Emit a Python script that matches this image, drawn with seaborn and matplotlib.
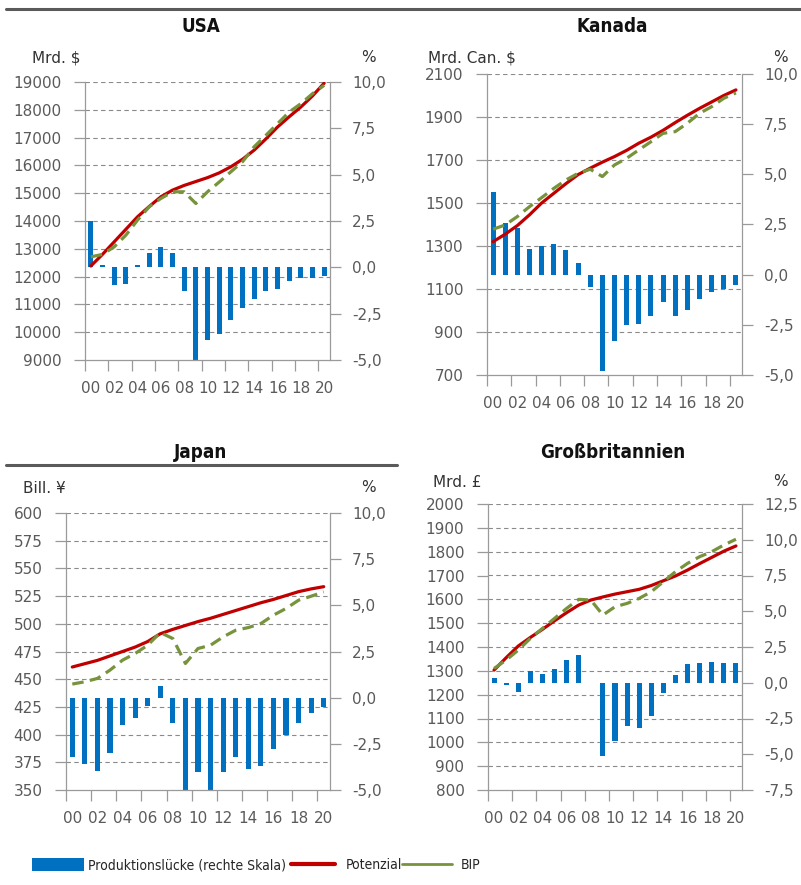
import matplotlib
matplotlib.use("Agg")
import matplotlib.pyplot as plt
import matplotlib.transforms as mtransforms
from matplotlib.lines import Line2D
from matplotlib.patches import Patch
from matplotlib.ticker import FuncFormatter
from matplotlib import font_manager
import numpy as np
import pandas as pd
import seaborn as sns

years = ["00", "01", "02", "03", "04", "05", "06", "07", "08", "09", "10",
         "11", "12", "13", "14", "15", "16", "17", "18", "19", "20"]

usa_gap = [2.5, 0.1, -0.95, -0.9, 0.15, 0.75, 1.1, 0.75, -1.3, -5.0, -3.9,
           -3.6, -2.85, -2.2, -1.7, -1.3, -1.15, -0.75, -0.6, -0.55, -0.45]
usa_pot = [12380, 12800, 13250, 13700, 14150, 14520, 14870, 15110, 15280, 15420, 15560,
           15730, 15950, 16220, 16550, 16950, 17380, 17750, 18100, 18500, 18960]
usa_bip = [12710, 12800, 13070, 13490, 14030, 14510, 14810, 15050, 15050, 14630, 15050,
           15400, 15770, 16130, 16670, 17080, 17500, 17920, 18220, 18580, 18880]

can_gap = [4.12, 2.57, 2.33, 1.3, 1.41, 1.55, 1.25, 0.58, -0.61, -4.8, -3.3,
           -2.52, -2.44, -2.08, -1.36, -2.08, -1.78, -1.23, -0.86, -0.71, -0.53]
can_pot = [1320, 1355, 1395, 1445, 1500, 1545, 1590, 1632, 1662, 1690, 1716,
           1745, 1778, 1806, 1838, 1874, 1908, 1940, 1970, 2000, 2026]
can_bip = [1378, 1398, 1437, 1483, 1525, 1568, 1607, 1638, 1657, 1623, 1677,
           1708, 1747, 1785, 1824, 1832, 1871, 1917, 1948, 1987, 2012]

jap_gap = [-3.19, -3.59, -3.95, -2.97, -1.48, -1.12, -0.43, 0.63, -1.39, -5.0, -4.04,
           -5.0, -4.04, -3.19, -3.88, -3.68, -2.78, -2.02, -1.39, -0.85, -0.49]
jap_pot = [461, 464, 467, 471, 475, 479, 484, 491, 495, 498.5, 502,
           505, 508.5, 512, 515.5, 519, 522, 525.5, 529, 531.5, 533.5]
jap_bip = [445.6, 447.7, 450.7, 458.2, 467.2, 473.2, 480.7, 492.1, 486.7, 464.2, 477.7,
           480.7, 488.2, 494.2, 496.6, 500.2, 507.8, 513.8, 521.3, 524.9, 528.8]

gbr_gap = [0.3, -0.15, -0.63, 0.84, 0.6, 0.93, 1.58, 1.91, -0.05, -5.13, -4.06,
           -3.03, -3.15, -2.33, -0.75, 0.54, 1.28, 1.4, 1.47, 1.4, 1.4]
gbr_pot = [1303, 1355, 1404, 1440, 1474, 1510, 1544, 1576, 1597, 1610, 1622,
           1632, 1642, 1658, 1678, 1698, 1723, 1750, 1776, 1802, 1824]
gbr_bip = [1310, 1345, 1387, 1436, 1478, 1520, 1562, 1600, 1597, 1534, 1569,
           1583, 1604, 1632, 1674, 1716, 1751, 1779, 1800, 1828, 1852]

legend_labels = ["Produktionslücke (rechte Skala)", "Potenzial", "BIP"]

BLUE = "#0070c0"
RED = "#c00000"
GREEN = "#77933c"
GREY = "#9a9a9a"

sns.set_style("white")
plt.rcParams["font.family"] = ["DejaVu Sans"]

# narrow face for titles / legend if one exists
names = {f.name for f in font_manager.fontManager.ttflist}
cond = [f for f in font_manager.fontManager.ttflist
        if f.name == "DejaVu Sans" and "ondensed" in str(f.stretch) + f.fname]
if "Liberation Sans Narrow" in names:
    NARROW = dict(family=["Liberation Sans Narrow", "DejaVu Sans"])
elif cond:
    NARROW = dict(family=["DejaVu Sans"], stretch="condensed")
else:
    NARROW = dict(family=["Roboto", "DejaVu Sans"])

W, H = 801, 885
fig = plt.figure(figsize=(W / 100, H / 100), dpi=100)


def rect(x0, y0, x1, y1):
    return [x0 / W, 1 - y1 / H, (x1 - x0) / W, (y1 - y0) / H]


def draw_panel(box, gap, pot, bip, lticks, rticks):
    df = pd.DataFrame({"year": years, "pos": range(len(years)),
                       "gap": gap, "pot": pot, "bip": bip})
    ax = fig.add_axes(rect(*box))
    ax2 = ax.twinx()

    sns.barplot(data=df, x="year", y="gap", order=years, ax=ax2, color=BLUE,
                saturation=1, width=0.42, errorbar=None, linewidth=0)
    sns.lineplot(data=df, x="pos", y="pot", ax=ax, color=RED, linewidth=2.3)
    sns.lineplot(data=df, x="pos", y="bip", ax=ax, color=GREEN, linewidth=2.3,
                 linestyle=(0, (3.6, 2.0)))

    ax.set_zorder(ax2.get_zorder() + 1)
    ax.patch.set_visible(False)

    ax.set_ylim(lticks[0], lticks[-1])
    ax.set_yticks(lticks)
    ax2.set_ylim(rticks[0], rticks[-1])
    ax2.set_yticks(rticks)
    ax2.yaxis.set_major_formatter(FuncFormatter(lambda v, _: f"{v:.1f}".replace(".", ",")))

    # dashed grid at left-axis values, drawn behind the bars
    tr = mtransforms.blended_transform_factory(ax2.transAxes, ax.transData)
    for v in lticks[1:]:
        ax2.add_artist(Line2D([0, 1], [v, v], transform=tr, color="#8a8a8a",
                              lw=0.8, linestyle=(0, (4, 3)), zorder=0))

    n = len(years)
    ax.set_xlim(-0.5, n - 0.5)
    ax.set_xticks(range(0, n, 2))
    ax.set_xticklabels(years[::2])
    ax.set_xticks(np.arange(-0.5, n - 1, 2), minor=True)
    ax.set_xlabel("")
    ax.set_ylabel("")
    ax2.set_xlabel("")
    ax2.set_ylabel("")

    for s in ["top", "right"]:
        ax.spines[s].set_visible(False)
    for s in ["top", "left", "bottom"]:
        ax2.spines[s].set_visible(False)
    for a in (ax, ax2):
        for s in a.spines.values():
            s.set_color(GREY)
            s.set_linewidth(0.9)

    ax.tick_params(axis="y", direction="out", length=8, width=0.9, color=GREY,
                   labelcolor="#5a5a5a", labelsize=11, pad=9, left=True)
    ax2.tick_params(axis="y", direction="out", length=8, width=0.9, color=GREY,
                    labelcolor="#5a5a5a", labelsize=11, pad=8, right=True)
    ax.tick_params(axis="x", which="major", length=0, labelcolor="#5a5a5a",
                   labelsize=11, pad=15)
    ax.tick_params(axis="x", which="minor", direction="out", length=8, width=0.9,
                   color=GREY, bottom=True)
    return ax, ax2


draw_panel((85, 82, 330, 360), usa_gap, usa_pot, usa_bip,
           list(range(9000, 19001, 1000)), [-5, -2.5, 0, 2.5, 5, 7.5, 10])
draw_panel((487, 74, 742, 375), can_gap, can_pot, can_bip,
           list(range(700, 2101, 200)), [-5, -2.5, 0, 2.5, 5, 7.5, 10])
draw_panel((66, 513, 330, 790), jap_gap, jap_pot, jap_bip,
           list(range(350, 601, 25)), [-5, -2.5, 0, 2.5, 5, 7.5, 10])
draw_panel((488, 504, 742, 790), gbr_gap, gbr_pot, gbr_bip,
           list(range(800, 2001, 100)), [-7.5, -5, -2.5, 0, 2.5, 5, 7.5, 10, 12.5])


def ftext(x, y, s, **kw):
    fig.text(x / W, 1 - y / H, s, **kw)


# panel titles
for x, y, s in [(201, 26, "USA"), (612, 26, "Kanada"),
                (201, 452, "Japan"), (613, 452, "Großbritannien")]:
    ftext(x, y, s, ha="center", va="center", fontsize=13.5, fontweight="semibold",
          color="#111111", **NARROW)

# unit labels
for x, y, s, ha in [(32, 58, "Mrd. $", "left"), (368, 57, "%", "center"),
                    (428, 58, "Mrd. Can. $", "left"), (780, 57, "%", "center"),
                    (23, 489, "Bill. ¥", "left"), (368, 488, "%", "center"),
                    (433, 483, "Mrd. £", "left"), (780, 482, "%", "center")]:
    ftext(x, y, s, ha=ha, va="center", fontsize=11, color="#333333")

# separator rules
fig.add_artist(Line2D([6 / W, 1], [1 - 9 / H] * 2, transform=fig.transFigure,
                      color="#5a5a5a", lw=2.2))
fig.add_artist(Line2D([6 / W, 397 / W], [1 - 465 / H] * 2, transform=fig.transFigure,
                      color="#5a5a5a", lw=2.2))

# legend, one entry per block so each sits where the reference has it
handles = [Patch(facecolor=BLUE, edgecolor="none"),
           Line2D([], [], color=RED, lw=3),
           Line2D([], [], color=GREEN, lw=2)]
prop = font_manager.FontProperties(size=10, **NARROW)
for h, lab, x0, hl, pad in zip(handles, legend_labels, [32, 291, 402],
                               [3.75, 3.2, 3.6], [0.3, 0.72, 0.6]):
    fig.legend([h], [lab], loc="center left", bbox_to_anchor=(x0 / W, 1 - 865 / H),
               frameon=False, borderpad=0, borderaxespad=0,
               handlelength=hl, handleheight=1.15, handletextpad=pad, prop=prop)

fig.savefig("out.png", dpi=100)
